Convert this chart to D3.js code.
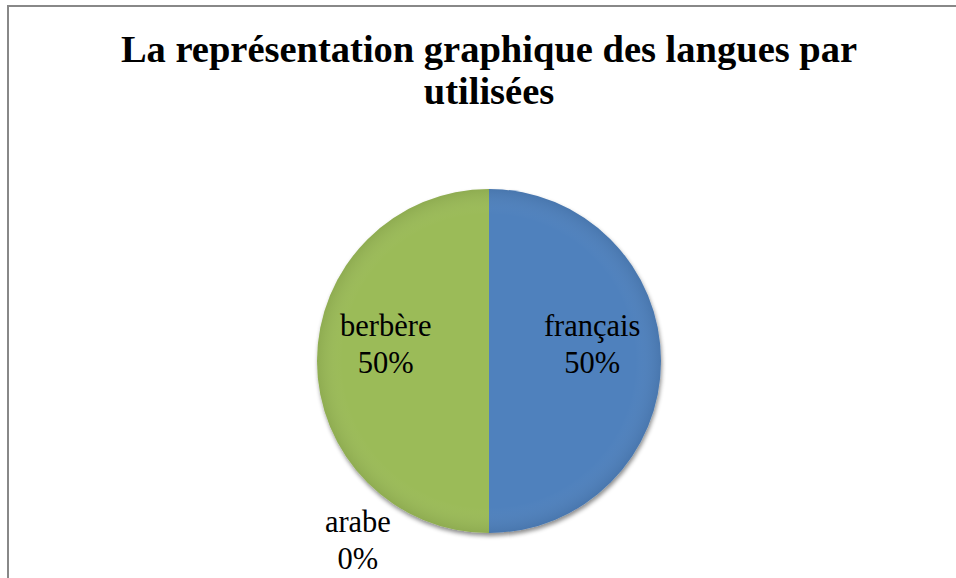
<!DOCTYPE html>
<html>
<head>
<meta charset="utf-8">
<title>langues</title>
<script src="https://cdn.jsdelivr.net/npm/d3@7"></script>
<style>
  body { margin: 0; background: #fff; }
</style>
</head>
<body>
<script>
// data, in the order the slices are drawn (clockwise from the top)
var langues = ["français", "arabe", "berbère"];
var valeurs = [50, 0, 50];
var couleurs = ["#4f81bd", "#c0504d", "#9bbb59"];
var titre = ["La représentation graphique des langues par", "utilisées"];

var w = 956, h = 578;
var cx = 489, cy = 361, R = 172;

var svg = d3.select("body").append("svg")
    .attr("width", w)
    .attr("height", h);

// frame (top and left edges only visible)
svg.append("rect")
    .attr("x", 8).attr("y", 6)
    .attr("width", w + 10).attr("height", h + 10)
    .attr("fill", "white")
    .attr("stroke", "#888")
    .attr("stroke-width", 2);

var defs = svg.append("defs");
var f = defs.append("filter").attr("id", "ombre")
    .attr("x", "-10%").attr("y", "-10%").attr("width", "120%").attr("height", "120%");
f.append("feDropShadow").attr("dx", 1).attr("dy", 3).attr("stdDeviation", 2)
    .attr("flood-color", "#000").attr("flood-opacity", 0.45);

var g = defs.append("radialGradient").attr("id", "reflet")
    .attr("cx", "50%").attr("cy", "50%").attr("r", "50%");
g.append("stop").attr("offset", "0.85").attr("stop-color", "#fff").attr("stop-opacity", 0);
g.append("stop").attr("offset", "1").attr("stop-color", "#000").attr("stop-opacity", 0.08);

// title
svg.selectAll(".titre")
    .data(titre)
    .enter().append("text")
    .attr("class", "titre")
    .attr("x", cx)
    .attr("y", function(d, i) { return 62 + i * 42; })
    .attr("text-anchor", "middle")
    .style("font-family", "'Liberation Serif'")
    .style("font-size", "38.5px")
    .style("font-weight", "bold")
    .text(function(d) { return d; });

var pie = d3.pie().sort(null).value(function(d) { return d; });
var arcs = pie(valeurs);

var arc = d3.arc().innerRadius(0).outerRadius(R);
var labelArc = d3.arc().innerRadius(R * 0.6).outerRadius(R * 0.6);
var outArc = d3.arc().innerRadius(R * 1.37).outerRadius(R * 1.37);

var chart = svg.append("g")
    .attr("transform", "translate(" + cx + "," + cy + ")");

var parts = chart.append("g").attr("filter", "url(#ombre)");
parts.selectAll("path")
    .data(arcs)
    .enter().append("path")
    .attr("d", arc)
    .attr("fill", function(d, i) { return couleurs[i]; });

chart.append("circle")
    .attr("r", R)
    .attr("fill", "url(#reflet)");

// labels: inside for real slices, outside (lower left) for empty ones
var labels = chart.selectAll(".etiq")
    .data(arcs)
    .enter().append("text")
    .attr("class", "etiq")
    .attr("text-anchor", "middle")
    .style("font-family", "'Liberation Serif'")
    .style("font-size", "30.5px")
    .attr("transform", function(d) {
        var p;
        if (d.value > 0) {
            p = labelArc.centroid(d);
        } else {
            var a = (d.startAngle + d.endAngle) / 2 + 0.59;
            p = outArc.centroid({startAngle: a, endAngle: a});
        }
        return "translate(" + p[0] + "," + p[1] + ")";
    });

var total = d3.sum(valeurs);
labels.append("tspan")
    .attr("x", 0).attr("y", -25)
    .text(function(d, i) { return langues[i]; });
labels.append("tspan")
    .attr("x", 0).attr("y", 12)
    .text(function(d) { return Math.round(d.value / total * 100) + "%"; });
</script>
</body>
</html>
